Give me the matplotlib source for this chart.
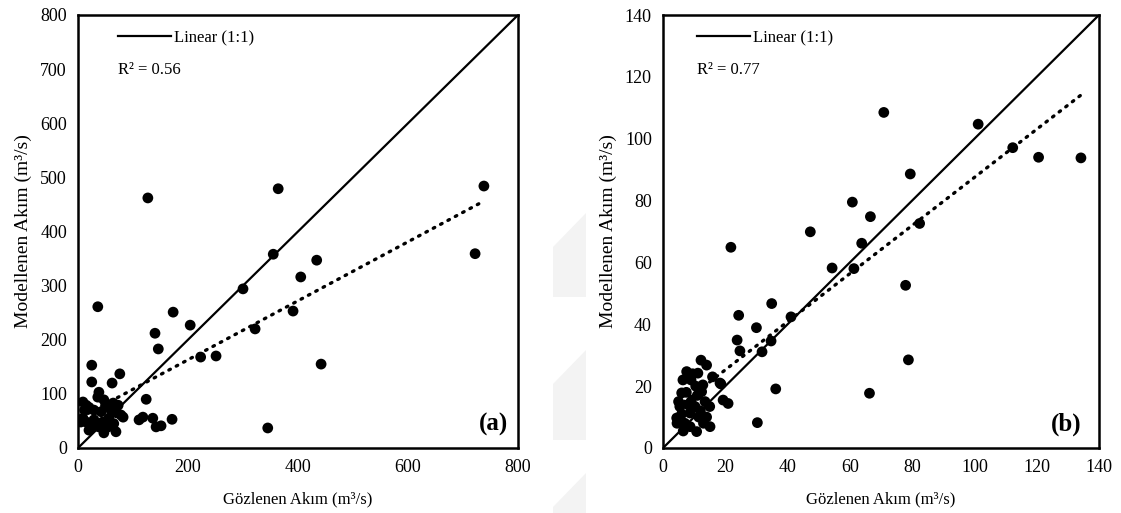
import matplotlib
matplotlib.use("Agg")
import matplotlib.pyplot as plt
from matplotlib.lines import Line2D
from matplotlib.patches import Polygon
import numpy as np

plt.rcParams['font.family'] = ['Liberation Serif', 'DejaVu Serif']

# ---- panel (a): observed vs modelled flow ----
obs_a = [127, 364, 36, 173, 140, 204, 300, 355, 322, 391, 738, 434, 405, 722, 442,
         345, 146, 25, 76, 25, 62, 223, 251, 124, 111, 118, 136, 171, 142, 151,
         38, 36, 9, 15, 47, 64, 73, 78, 82, 9, 15, 29, 45, 55, 38, 69, 47, 20,
         56, 29, 42, 5, 20, 50, 60, 33, 25, 65, 70, 12]
mod_a = [462, 479, 261, 251, 212, 227, 294, 358, 220, 253, 484, 347, 316, 359, 155,
         37, 183, 153, 137, 122, 120, 168, 170, 90, 52, 57, 55, 53, 39, 41,
         103, 94, 85, 79, 89, 83, 79, 61, 57, 55, 48, 52, 48, 39, 39, 30, 28, 33,
         55, 70, 67, 48, 75, 78, 70, 45, 40, 45, 65, 70]
trend_a = (0.545, 54.0)      # slope, intercept of the linear trendline
r2_a = 0.56
diag_a = [0, 800]
ticks_a = [0, 200, 400, 600, 800]
yticks_a = [0, 100, 200, 300, 400, 500, 600, 700, 800]

# ---- panel (b) ----
obs_b = [70.9, 101.2, 112.3, 120.6, 134.2, 79.4, 60.8, 66.6, 82.4, 47.3, 21.8, 63.8,
         54.3, 61.3, 77.9, 34.9, 24.3, 41.1, 30.0, 23.8, 34.7, 24.7, 31.8, 78.8,
         36.2, 66.3, 30.3, 18.6, 19.3, 20.9, 15.9, 12.2, 14.0,
         7.6, 11.2, 6.4, 9.0, 6.0, 12.8, 12.4, 18.3, 4.4, 4.5, 8.7, 8.7, 10.8, 15.1,
         14.0, 5.4, 10.3, 7.0, 15.0, 6.0, 9.0, 11.5, 13.0, 12.0, 7.5, 5.0, 9.5,
         10.5, 8.0, 13.5, 11.0, 6.5]
mod_b = [108.5, 104.7, 97.1, 94.0, 93.8, 88.6, 79.5, 74.8, 72.6, 69.9, 64.9, 66.2,
         58.2, 58.0, 52.6, 46.7, 42.9, 42.4, 38.9, 34.9, 34.6, 31.4, 31.1, 28.5,
         19.1, 17.7, 8.2, 20.7, 15.5, 14.4, 23.0, 28.4, 26.8,
         24.7, 24.2, 22.0, 22.0, 17.8, 20.4, 18.2, 21.0, 9.7, 8.0, 11.3, 6.9, 5.3, 6.9,
         10.0, 13.4, 13.4, 8.0, 13.4, 11.0, 15.0, 10.0, 8.0, 12.0, 18.0, 15.0, 24.0,
         20.0, 14.0, 15.0, 17.0, 5.5]
trend_b = (0.778, 9.7)
r2_b = 0.77
diag_b = [0, 140]
ticks_b = [0, 20, 40, 60, 80, 100, 120, 140]

W, H = 1121, 513
fig = plt.figure(figsize=(W / 100, H / 100), dpi=100)

# faint diagonal watermark stripes between the panels (figure pixel coords)
for top, bot in [(213, 297), (350, 440), (473, 513)]:
    pts = [(553, top + 34), (586, top), (586, bot), (553, bot)]
    pts = [(x / W, (H - y) / H) for x, y in pts]
    fig.patches.append(Polygon(pts, closed=True, transform=fig.transFigure,
                               facecolor='#f3f3f3', edgecolor='none', zorder=0))

ax_a = fig.add_axes([78 / W, (H - 448) / H, 440 / W, 433 / H])
ax_b = fig.add_axes([663 / W, (H - 448) / H, 436 / W, 433 / H])

panels = [
    (ax_a, obs_a, mod_a, trend_a, r2_a, diag_a, ticks_a, yticks_a, '(a)', 0.091, 0.977),
    (ax_b, obs_b, mod_b, trend_b, r2_b, diag_b, ticks_b, ticks_b, '(b)', 0.078, 0.959),
]

for ax, xo, ym, (m, c), r2, diag, xt, yt, tag, lx, tx in panels:
    ax.set_facecolor('none')
    ax.plot(diag, diag, color='black', lw=1.6, zorder=2)
    xs = np.array([min(xo), max(xo)])
    ax.plot(xs, m * xs + c, color='black', lw=2.4,
            linestyle=(0, (0.5, 2.0)), dash_capstyle='round', zorder=2)
    ax.scatter(xo, ym, s=60, color='black', edgecolors='none', zorder=3)

    ax.set_xlim(diag[0], diag[1])
    ax.set_ylim(diag[0], diag[1])
    ax.set_xticks(xt)
    ax.set_yticks(yt)
    ax.tick_params(length=0, labelsize=13, pad=8)
    for s in ax.spines.values():
        s.set_linewidth(1.8)
        s.set_color('black')

    ax.set_xlabel('Gözlenen Akım (m³/s)', fontsize=12, labelpad=11)
    ax.set_ylabel('Modellenen Akım (m³/s)', fontsize=14, labelpad=6)

    handle = Line2D([], [], color='black', lw=1.6)
    ax.legend([handle], ['Linear (1:1)'], loc='upper left', bbox_to_anchor=(lx, 0.965),
              frameon=False, handlelength=3.2, handletextpad=0.15, borderpad=0,
              borderaxespad=0, fontsize=12)
    ax.text(lx, 0.873, f'R² = {r2:.2f}', transform=ax.transAxes, fontsize=12,
            ha='left', va='center')
    ax.text(tx, 0.055, tag, transform=ax.transAxes, fontsize=18, fontweight='bold',
            ha='right', va='center')

fig.savefig('out.png', dpi=100)
